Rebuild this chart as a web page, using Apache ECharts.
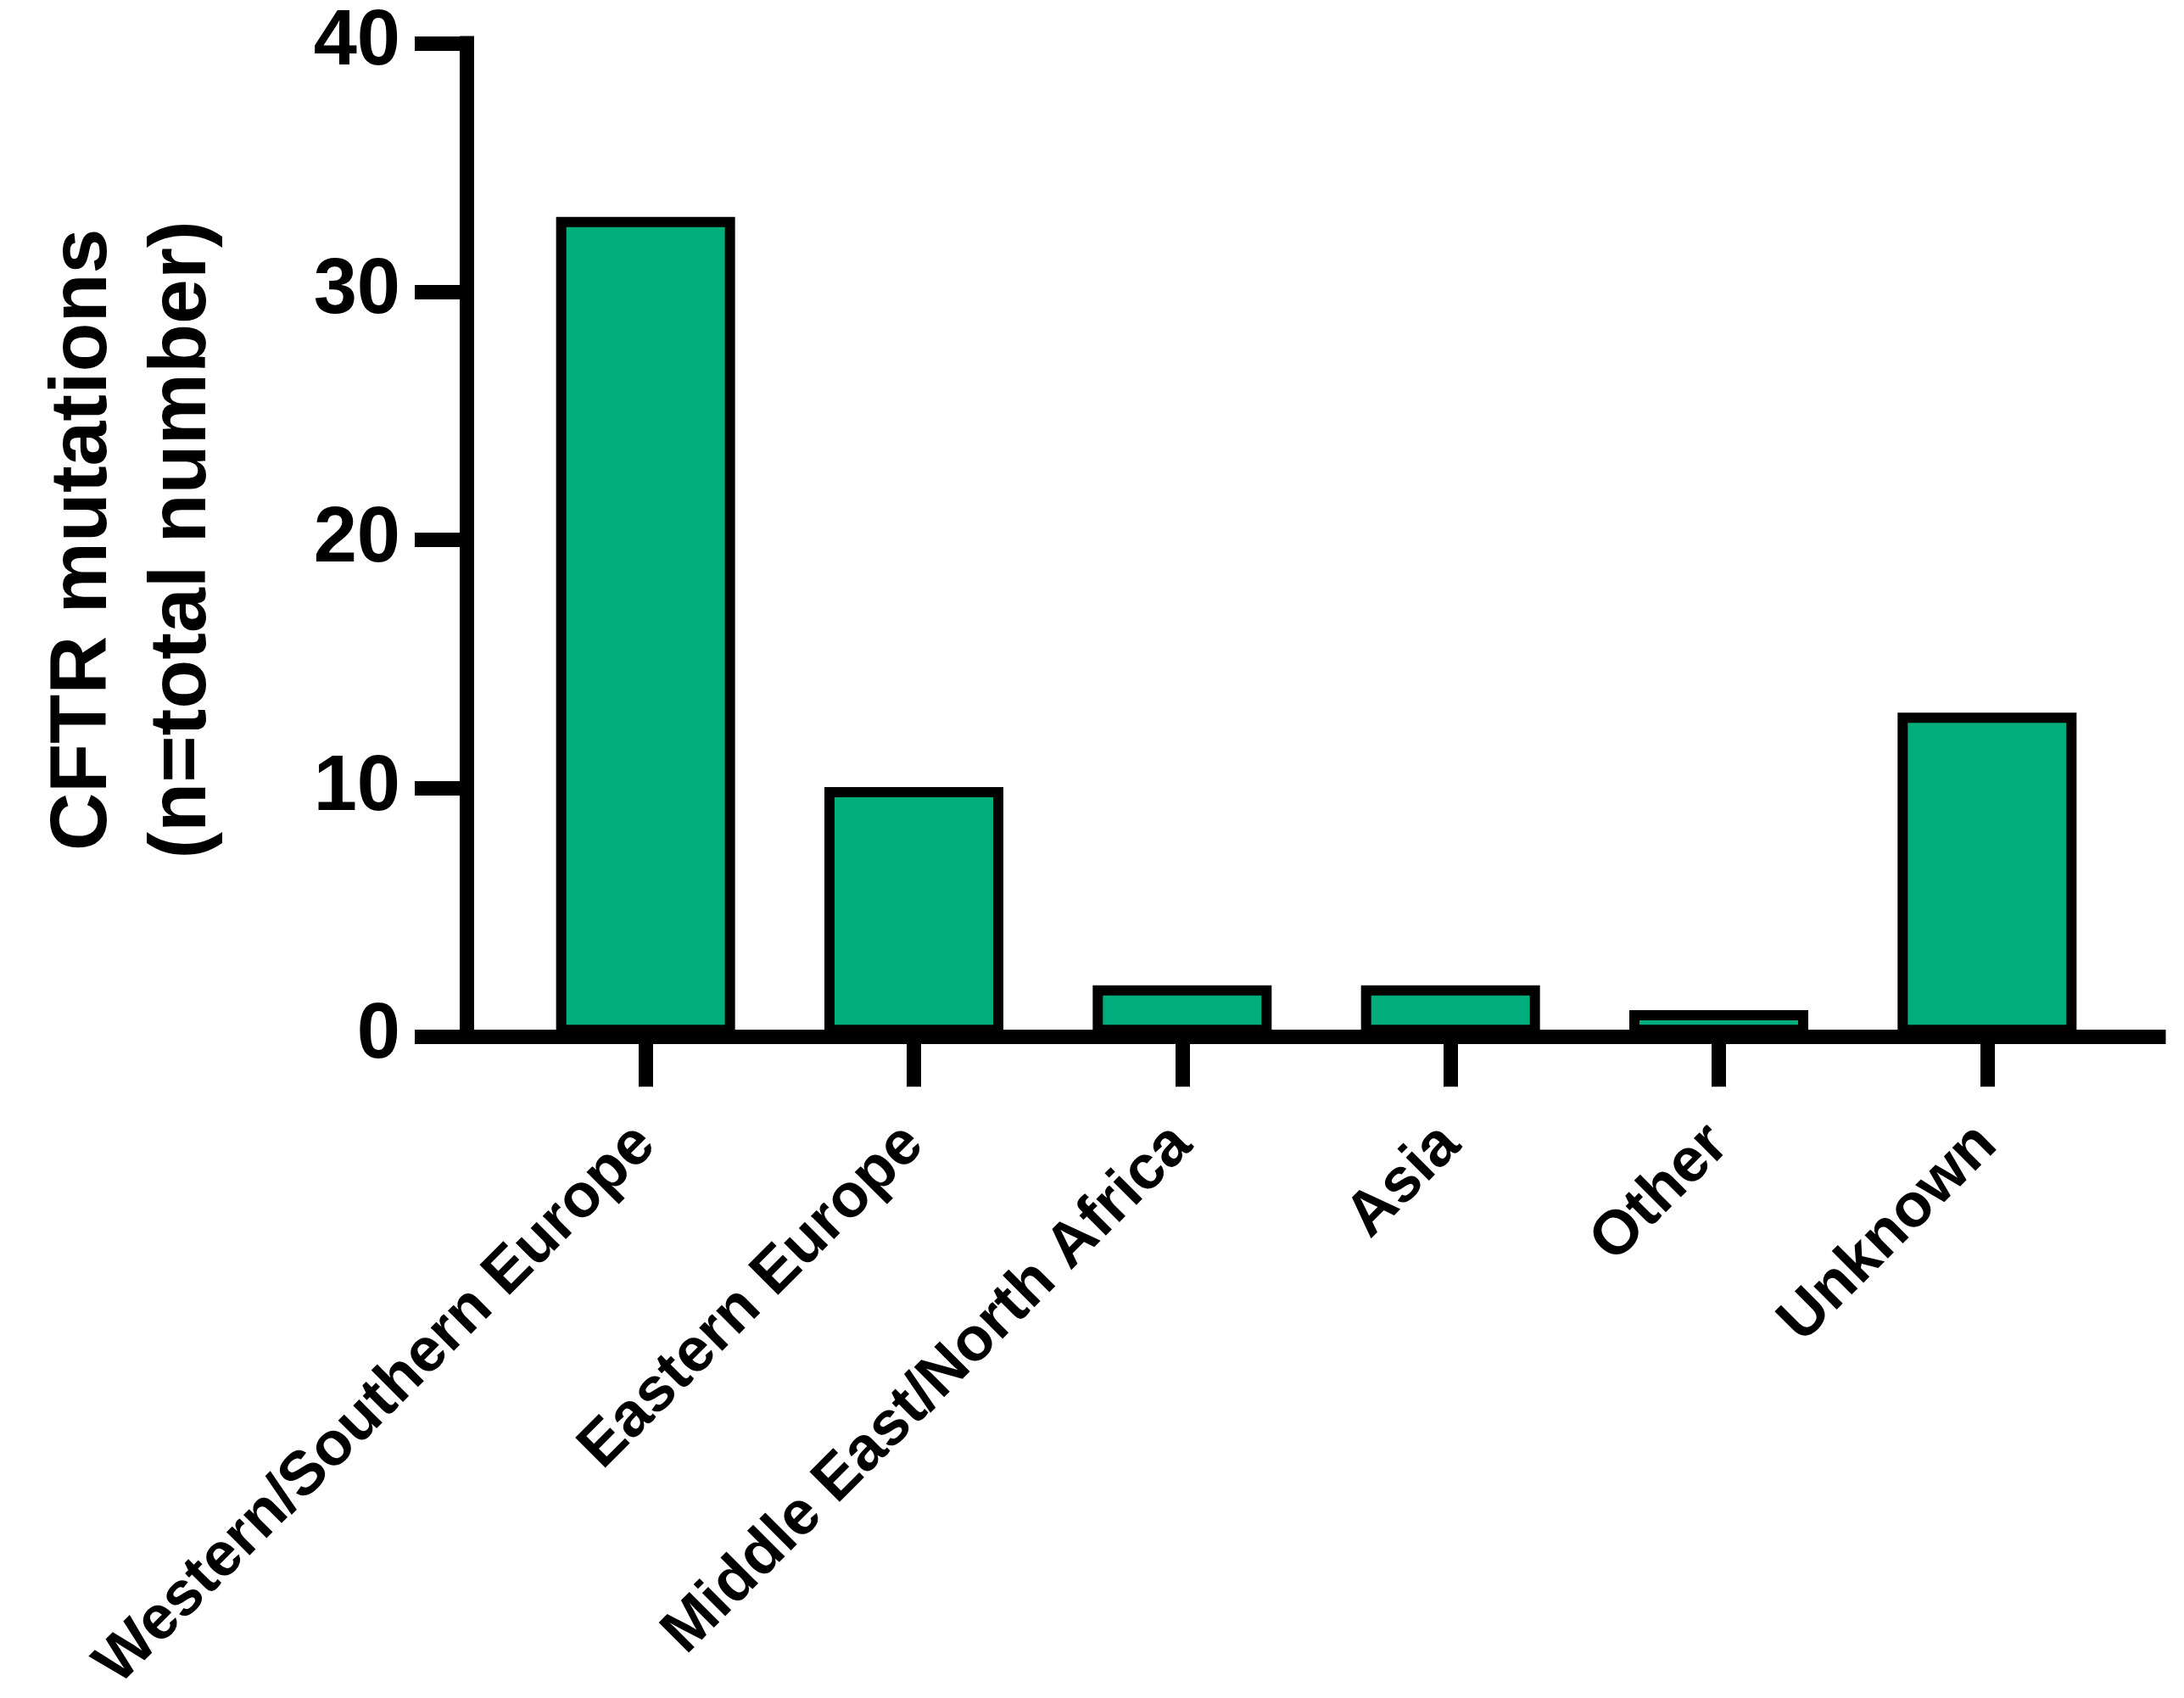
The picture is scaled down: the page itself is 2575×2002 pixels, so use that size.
<!DOCTYPE html>
<html>
<head>
<meta charset="utf-8">
<script src="https://cdn.jsdelivr.net/npm/echarts@6/dist/echarts.min.js"></script>
<style>html,body{margin:0;padding:0;background:#fff;}#chart{width:2575px;height:2002px;}</style>
</head>
<body>
<div id="chart"></div>
<script>
const categories = ['Western/Southern Europe', 'Eastern Europe', 'Middle East/North Africa', 'Asia', 'Other', 'Unknown'];
const mutationCounts = [33, 10, 2, 2, 1, 13];
const yTicks = [0, 10, 20, 30, 40];
const yAxisName = 'CFTR mutations\n(n=total number)';

const FONT = '"Liberation Sans", Arial, Helvetica, sans-serif';
const chart = echarts.init(document.getElementById('chart'), null, {renderer: 'canvas'});
const black = '#000000';

chart.setOption({
  backgroundColor: '#ffffff',
  animation: false,
  grid: [
    {left: 550, right: 30, top: 51, bottom: 780},
    {left: 603, right: 74, top: 51, bottom: 780}
  ],
  xAxis: [
    {
      gridIndex: 0, type: 'value', min: 0, max: 1,
      axisLine: {show: true, lineStyle: {color: black, width: 17, cap: 'square'}},
      axisTick: {show: false}, axisLabel: {show: false}, splitLine: {show: false}
    },
    {
      gridIndex: 1, type: 'category', data: categories,
      axisLine: {show: false},
      axisTick: {show: true, alignWithLabel: true, length: 61, lineStyle: {color: black, width: 17}},
      axisLabel: {
        show: true, rotate: 45, margin: 118, interval: 0,
        fontFamily: FONT, fontWeight: 'bold', fontSize: 73, color: black
      },
      splitLine: {show: false}
    }
  ],
  yAxis: [
    {
      gridIndex: 0, type: 'value',
      min: yTicks[0], max: yTicks[yTicks.length - 1], interval: yTicks[1] - yTicks[0],
      axisLine: {show: true, lineStyle: {color: black, width: 17, cap: 'square'}},
      axisTick: {show: true, length: 61, lineStyle: {color: black, width: 17}},
      axisLabel: {show: true, margin: 78, fontFamily: FONT, fontWeight: 'bold', fontSize: 92, color: black},
      splitLine: {show: false},
      name: yAxisName, nameLocation: 'middle', nameGap: 276,
      nameTextStyle: {fontFamily: FONT, fontWeight: 'bold', fontSize: 95, lineHeight: 117, color: black, align: 'center'}
    },
    {
      gridIndex: 1, type: 'value',
      min: yTicks[0], max: yTicks[yTicks.length - 1], interval: yTicks[1] - yTicks[0],
      show: false, splitLine: {show: false}
    }
  ],
  series: [
    {
      type: 'bar', xAxisIndex: 1, yAxisIndex: 1,
      data: mutationCounts, barWidth: 211,
      itemStyle: {color: '#00AE7C', borderColor: black, borderWidth: 12},
      z: 3
    }
  ]
});
</script>
</body>
</html>
